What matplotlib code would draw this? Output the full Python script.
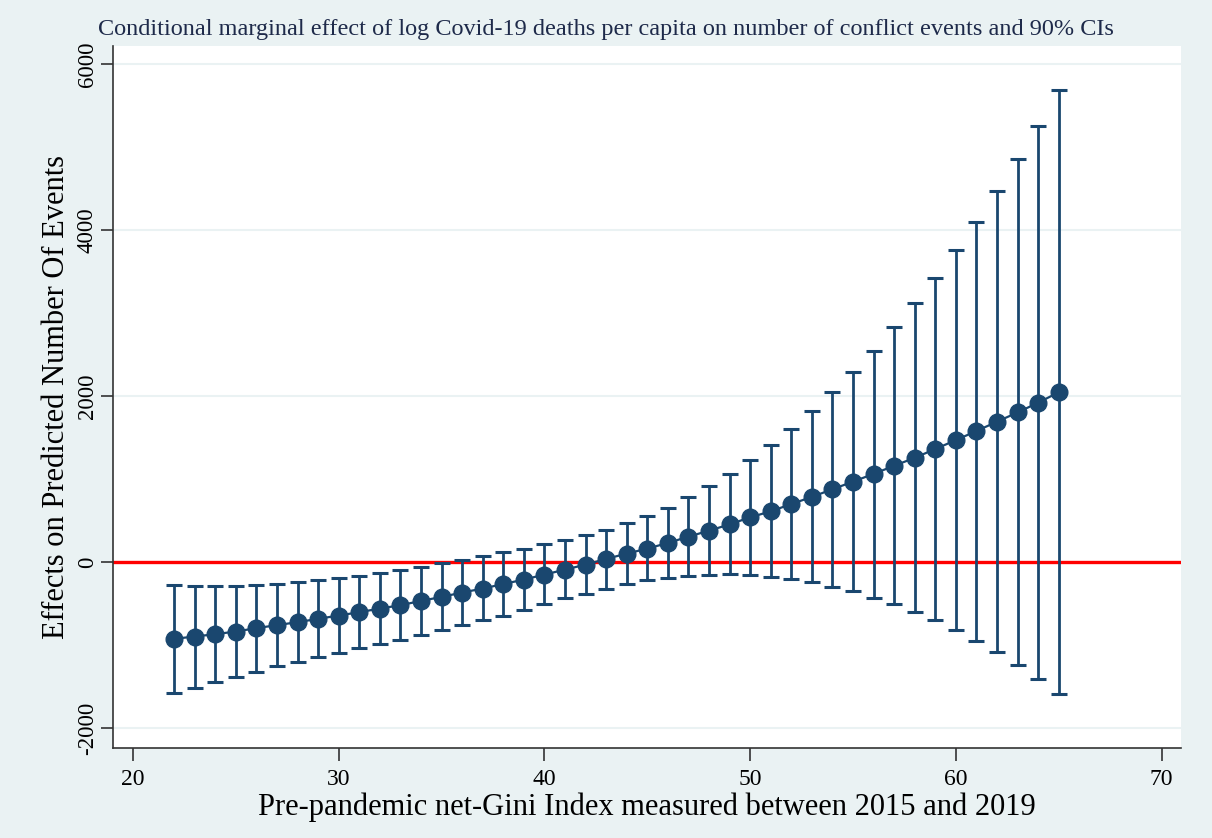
import matplotlib.pyplot as plt

# net-Gini values and the marginal effects with 90% CI bounds
gini = list(range(22, 66))
effect = [-922, -894, -866, -834, -793, -757, -721, -681, -641, -601, -557,
          -517, -465, -417, -364, -316, -262, -208, -148, -88, -28, 41, 105,
          165, 233, 309, 381, 457, 542, 614, 702, 788, 880, 972, 1065, 1163,
          1259, 1365, 1472, 1582, 1694, 1806, 1923, 2049]
ci_high = [-272, -280, -280, -280, -272, -260, -236, -212, -188, -160, -124,
           -92, -52, -8, 32, 73, 123, 165, 221, 265, 325, 389, 470, 558, 658,
           782, 914, 1067, 1231, 1412, 1606, 1822, 2049, 2290, 2550, 2831,
           3119, 3428, 3757, 4102, 4470, 4855, 5260, 5685]
ci_low = [-1575, -1511, -1443, -1379, -1319, -1254, -1202, -1142, -1094,
          -1038, -986, -930, -878, -821, -761, -697, -641, -570, -500, -429,
          -377, -316, -264, -216, -184, -160, -148, -144, -152, -172, -200,
          -240, -292, -350, -424, -505, -597, -701, -817, -942, -1086, -1242,
          -1403, -1587]

xticks = [20, 30, 40, 50, 60, 70]
yticks = [-2000, 0, 2000, 4000, 6000]

navy = '#1a476f'
bg = '#eaf2f3'

plt.rcParams['font.family'] = ['Liberation Serif', 'DejaVu Serif']

fig = plt.figure(figsize=(12.12, 8.38), dpi=100, facecolor=bg)
ax = fig.add_axes([0.0932, 0.1074, 0.8812, 0.8377])
ax.set_facecolor('white')

err_lo = [e - l for e, l in zip(effect, ci_low)]
err_hi = [h - e for e, h in zip(effect, ci_high)]

ax.axhline(0, color='red', lw=2.4, zorder=2)
ax.errorbar(gini, effect, yerr=[err_lo, err_hi], fmt='none', ecolor=navy,
            elinewidth=2.0, capsize=6, capthick=2.2, zorder=3)
ax.plot(gini, effect, color=navy, lw=1.6, marker='o', ms=12,
        markeredgecolor=navy, zorder=4)

ax.set_xlim(19.03, 70.94)
ax.set_ylim(-2237, 6220)
ax.set_xticks(xticks)
ax.set_yticks(yticks)
ax.set_xticklabels([str(t) for t in xticks], fontsize=17)
ax.set_yticklabels([str(t) for t in yticks], fontsize=16.5, rotation=90,
                   va='center')
ax.grid(axis='y', color=bg, lw=1.5, zorder=0)
ax.set_axisbelow(True)

for s in ['top', 'right']:
    ax.spines[s].set_visible(False)
for s in ['left', 'bottom']:
    ax.spines[s].set_color('#333333')
    ax.spines[s].set_linewidth(1.2)
ax.tick_params(axis='both', direction='out', length=9, width=1.2,
               color='#333333')
ax.tick_params(axis='x', pad=6)
ax.tick_params(axis='y', pad=2)

ax.set_xlabel('Pre-pandemic net-Gini Index measured between 2015 and 2019',
              fontsize=22, labelpad=2)
ax.set_ylabel('Effects on Predicted Number Of Events', fontsize=22,
              labelpad=4)
fig.text(0.5, 0.965, 'Conditional marginal effect of log Covid-19 deaths per '
         'capita on number of conflict events and 90% CIs',
         ha='center', va='center', fontsize=17.5, color='#1e2a4a')

fig.savefig('out.png', dpi=100, facecolor=bg)
